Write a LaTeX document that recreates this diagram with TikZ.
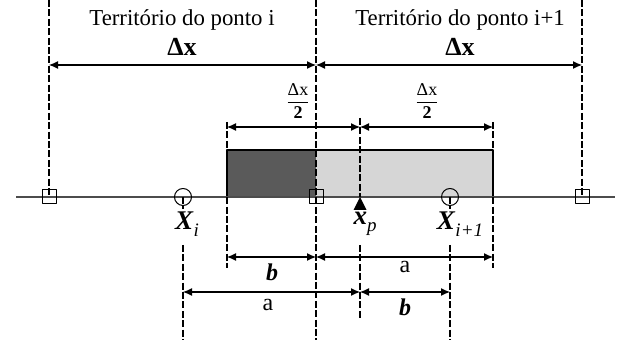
\documentclass[tikz,border=0pt]{standalone}
\usepackage{fontspec}
\setmainfont{Liberation Serif}
\usetikzlibrary{arrows.meta}
\definecolor{escuro}{HTML}{5A5A5A}
\definecolor{claro}{HTML}{D6D6D6}
\tikzset{
  guia/.style={line width=1pt, dash pattern=on 3.5pt off 1.2pt},
  cota/.style={{Latex[length=4.5pt,width=4pt]}-{Latex[length=4.5pt,width=4pt]}, line width=0.55pt},
  fronteira/.style={draw, rectangle, minimum size=7pt, inner sep=0pt, line width=0.5pt},
  ponto/.style={draw, circle, minimum size=8.5pt, inner sep=0pt, line width=0.5pt},
  rotulo/.style={font=\fontsize{13.5}{14}\selectfont, inner sep=1pt},
  letra/.style={font=\fontsize{12}{12}\selectfont, inner sep=1pt}
}
\newcommand{\indice}[1]{\raisebox{-0.55ex}{\fontsize{9.5}{10}\selectfont\textit{#1}}}
\begin{document}
\begin{tikzpicture}[x=0.5pt, y=-0.5pt, font=\fontsize{11.4}{13}\selectfont, line join=round]
\useasboundingbox (0,0) rectangle (625,340);
% volume de controle
\fill[escuro] (227,150) rectangle (316,197);
\fill[claro] (316,150) rectangle (493,197);
\draw[line width=0.7pt] (227,150) rectangle (493,197);
% eixo
\coordinate (e0) at (16,197);
\coordinate (e1) at (615,197);
\draw[line width=0.6pt, black!70] (e0) -- (e1);
\foreach \n/\x in {fl/49, fm/316, fr/582} \node[fronteira] (\n) at (\x,197) {};
\node[ponto] (pi) at (183,197) {};
\node[ponto] (pj) at (450,197) {};
\fill (360,197) -- (353.5,210) -- (366.5,210) -- cycle;
% linhas guia
\foreach \n/\x in {l/49, m/316, r/582} \coordinate (t\n) at (\x,0);
\coordinate (mb) at (316,340);
\coordinate (at) at (227,122); \coordinate (ab) at (227,268);
\coordinate (bt) at (493,122); \coordinate (bb) at (493,268);
\coordinate (pt) at (360,118); \coordinate (pa) at (360,197);
\coordinate (p0) at (360,245); \coordinate (p1) at (360,320);
\coordinate (i0) at (183,245); \coordinate (i1) at (183,340);
\coordinate (j0) at (450,245); \coordinate (j1) at (450,340);
\draw[guia] (tl) -- (fl.center);
\draw[guia] (tr) -- (fr.center);
\draw[guia] (tm) -- (mb);
\draw[guia] (at) -- (ab);
\draw[guia] (bt) -- (bb);
\draw[guia] (pt) -- (pa);
\draw[guia] (p0) -- (p1);
\draw[guia] (i0) -- (i1);
\draw[guia] (j0) -- (j1);
\draw[guia] (pi.center) -- ++(0,12);
\draw[guia] (pj.center) -- ++(0,12);
% cotas
\draw[cota] (49,65) coordinate (c1) -- (316,65) coordinate (c2);
\draw[cota] (c2) -- (582,65);
\draw[cota] (227,127) coordinate (d1) -- (360,127) coordinate (d2);
\draw[cota] (d2) -- (493,127);
\draw[cota] (227,257) coordinate (g1) -- (316,257) coordinate (g2);
\draw[cota] (g2) -- (493,257);
\draw[cota] (183,292) coordinate (h1) -- (360,292) coordinate (h2);
\draw[cota] (h2) -- (450,292);
% textos
\node (ti) at (182,20) {Território do ponto i};
\node (tj) at (460,20) {Território do ponto i+1};
\node[font=\fontsize{13}{14}\selectfont] (dxi) at (182,47) {\textbf{Δx}};
\node[font=\fontsize{13}{14}\selectfont] (dxj) at (460,47) {\textbf{Δx}};
\node[font=\fontsize{9}{10}\selectfont, inner sep=0pt] (mi) at (298,101) {$\displaystyle\frac{\mbox{Δx}}{\mbox{\bfseries 2}}$};
\node[font=\fontsize{9}{10}\selectfont, inner sep=0pt] (mj) at (427,101) {$\displaystyle\frac{\mbox{Δx}}{\mbox{\bfseries 2}}$};
\node[rotulo] (lxi) at (187,224) {\textbf{\textit{X}}\indice{i}};
\node[rotulo] (lxp) at (365,224) {\textbf{\textit{x}}\indice{p}};
\node[rotulo] (lxj) at (460,224) {\textbf{\textit{X}}\indice{i+1}};
\node[letra] (b1) at (272,272) {\textbf{\textit{b}}};
\node[letra] (a1) at (405,267) {a};
\node[letra] (a2) at (268,305) {a};
\node[letra] (b2) at (405,307) {\textbf{\textit{b}}};
\end{tikzpicture}
\end{document}
